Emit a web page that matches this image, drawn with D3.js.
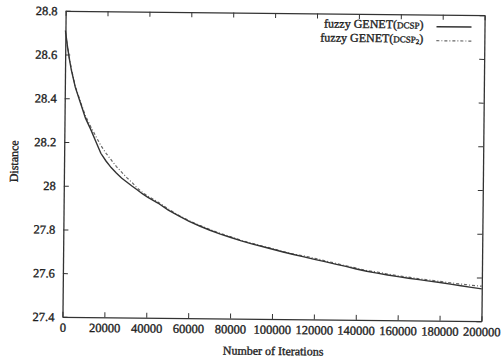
<!DOCTYPE html>
<html><head><meta charset="utf-8">
<script src="https://cdn.jsdelivr.net/npm/d3@7"></script>
<style>body{margin:0;background:#fff}svg{display:block}text{font-family:"Liberation Serif","Times New Roman",serif;fill:#1e1e1e;stroke:#1e1e1e;stroke-width:0.35px}</style>
</head><body><svg id="c" width="503" height="364"></svg>
<script>
const iterations = [0,1000,2000,3000,5000,7500,10000,12500,15000,17500,20000,22500,25000,27500,30000,32500,35000,37500,40000,45000,50000,55000,60000,65000,70000,75000,80000,85000,90000,95000,100000,105000,110000,115000,120000,125000,130000,135000,140000,145000,150000,155000,160000,165000,170000,175000,180000,185000,190000,195000,200000];
const solidSeries = [28.71,28.64,28.58,28.53,28.45,28.38,28.31,28.26,28.205,28.15,28.115,28.085,28.06,28.038,28.02,28.002,27.985,27.967,27.952,27.925,27.893,27.867,27.843,27.822,27.803,27.786,27.771,27.756,27.743,27.731,27.719,27.707,27.696,27.686,27.675,27.665,27.654,27.644,27.633,27.623,27.615,27.607,27.6,27.593,27.587,27.581,27.575,27.568,27.561,27.554,27.548];
const dashedSeries = [28.70,28.64,28.585,28.535,28.455,28.385,28.32,28.272,28.228,28.185,28.15,28.12,28.09,28.065,28.04,28.018,27.993,27.974,27.957,27.93,27.898,27.87,27.846,27.825,27.806,27.789,27.774,27.758,27.746,27.733,27.722,27.709,27.698,27.69,27.68,27.669,27.658,27.647,27.637,27.626,27.62,27.611,27.604,27.598,27.591,27.586,27.58,27.574,27.569,27.564,27.56];
const xTicks = [0,20000,40000,60000,80000,100000,120000,140000,160000,180000,200000];
const yTicks = [27.4,27.6,27.8,28,28.2,28.4,28.6,28.8];
const seriesNames = ["fuzzy GENET(", "DCSP", ")"];

const svg = d3.select("#c");
const root = svg.append("g").attr("transform","rotate(0.6,273,170)");
const L=64, R=483, T=13, B=319;
const x = d3.scaleLinear().domain([0,200000]).range([L,R]);
const y = d3.scaleLinear().domain([27.4,28.8]).range([B,T]);
const fmt = d => String(d);

const gB = root.append("g").attr("transform",`translate(0,${B})`)
  .call(d3.axisBottom(x).tickValues(xTicks).tickFormat(fmt).tickSizeInner(-5).tickSizeOuter(0).tickPadding(6));
const gL = root.append("g").attr("transform",`translate(${L},0)`)
  .call(d3.axisLeft(y).tickValues(yTicks).tickFormat(fmt).tickSizeInner(-5).tickSizeOuter(0).tickPadding(8));
const gT = root.append("g").attr("transform",`translate(0,${T})`)
  .call(d3.axisTop(x).tickValues(xTicks).tickFormat("").tickSizeInner(-5).tickSizeOuter(0));
const gR = root.append("g").attr("transform",`translate(${R},0)`)
  .call(d3.axisRight(y).tickValues(yTicks).tickFormat("").tickSizeInner(-5).tickSizeOuter(0));
[gB,gL,gT,gR].forEach(g=>{
  g.selectAll("path.domain").attr("stroke","#333").attr("stroke-width",1.3);
  g.selectAll(".tick line").attr("stroke","#333").attr("stroke-width",1);
  g.selectAll("text").attr("font-size","12.5px").attr("font-family",'"Liberation Serif",serif').attr("fill","#1e1e1e");
});

const line = d3.line().x((d,i)=>x(iterations[i])).y(d=>y(d));
root.append("path").datum(dashedSeries).attr("d",line).attr("fill","none")
  .attr("stroke","#666").attr("stroke-width",1.2).attr("stroke-dasharray","3,2,1,2");
root.append("path").datum(solidSeries).attr("d",line).attr("fill","none")
  .attr("stroke","#333").attr("stroke-width",1.4);

root.append("text").attr("x",275).attr("y",355).attr("text-anchor","middle")
  .attr("font-size","12px").text("Number of Iterations");
root.append("text").attr("transform","translate(18,164) rotate(-90)").attr("text-anchor","middle")
  .attr("font-size","12px").text("Distance");

const leg = [{sub:false, dash:null, c:"#333", w:1.4},{sub:true, dash:"3,2,1,2", c:"#666", w:1.2}];
leg.forEach((d,i)=>{
  const yy = 27 + i*14;
  const t = root.append("text").attr("x",422).attr("y",yy).attr("text-anchor","end")
    .attr("font-size","12px");
  t.append("tspan").text(seriesNames[0]);
  t.append("tspan").attr("font-size","9px").text(seriesNames[1]);
  if(d.sub) t.append("tspan").attr("font-size","7px").attr("dy",1.5).text("2");
  t.append("tspan").attr("dy",d.sub?-1.5:0).text(seriesNames[2]);
  root.append("line").attr("x1",435).attr("x2",470).attr("y1",yy-2).attr("y2",yy-2)
    .attr("stroke",d.c).attr("stroke-width",d.w).attr("stroke-dasharray",d.dash);
});
</script></body></html>
